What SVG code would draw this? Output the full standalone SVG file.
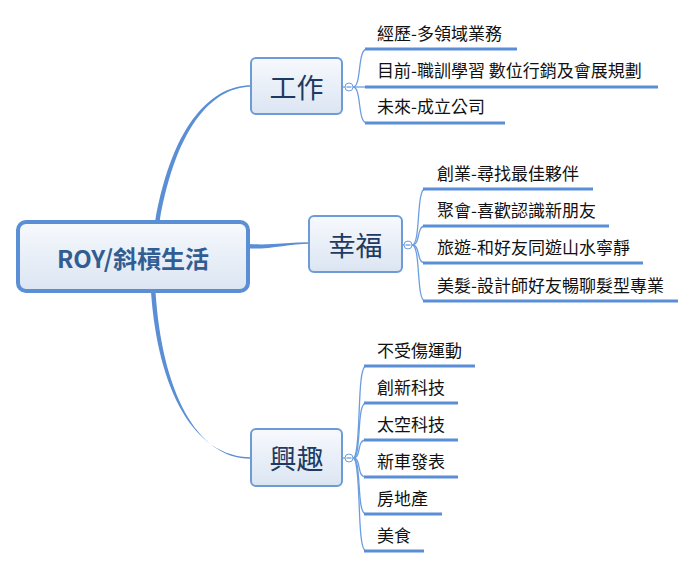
<svg xmlns="http://www.w3.org/2000/svg" width="695" height="568" viewBox="0 0 695 568">
<defs>
<linearGradient id="gNode" x1="0" y1="0" x2="0" y2="1">
<stop offset="0" stop-color="#f7f9fd"/>
<stop offset="1" stop-color="#dbe5f2"/>
</linearGradient>
<style>
text{font-family:"Noto Sans CJK TC","Noto Sans CJK SC",sans-serif}
.root{fill:url(#gNode);stroke:#5a8fd6;stroke-width:4}
.rootT{font-size:24px;font-weight:bold;fill:#315d93;text-anchor:middle;dominant-baseline:central}
.node{fill:url(#gNode);stroke:#6c9bd8;stroke-width:2}
.nodeT{font-size:27px;fill:#1e3a63;text-anchor:middle;dominant-baseline:central}
.trunk{fill:#5a8ed5;stroke:none}
.twig{fill:none;stroke:#6c9edf;stroke-width:1.3}
.under{fill:none;stroke:#5a8ed6;stroke-width:3}
.tog{fill:#fff;stroke:#6c9edf;stroke-width:1}
.leafT{font-size:17px;fill:#111}
</style>
</defs>
<rect width="695" height="568" fill="#fff"/>
<g id="connectors">
<path class="trunk" d="M155,222 C173,120 214,85.2 251,85.2 L251,86.8 C216,86.8 177,121 159.5,222 Z"/>
<path class="trunk" d="M249,244 C270,245.5 290,242.3 310,242.3 L310,243.7 C290,243.7 270,249.5 249,248.5 Z"/>
<path class="trunk" d="M151,292 C158,390 194,457.2 251,457.2 L251,458.8 C196,458.8 162,390 155.5,292 Z"/>
<path class="twig" d="M342,87 L345,87"/>
<path class="twig" d="M353,87 C362,87 357,49 367,49"/>
<path class="twig" d="M353,87 L367,87"/>
<path class="twig" d="M353,87 C362,87 357,123 367,123"/>
<path class="under" d="M365,49 H517 M365,87 H658 M365,123 H505"/>
<path class="twig" d="M402,245 L404,245"/>
<path class="twig" d="M412,245 C421,245 416,189 425,189"/>
<path class="twig" d="M412,245 C421,245 416,226 425,226"/>
<path class="twig" d="M412,245 C421,245 416,263 425,263"/>
<path class="twig" d="M412,245 C421,245 416,301 425,301"/>
<path class="under" d="M423,189 H593 M423,226 H609 M423,263 H643 M423,301 H678"/>
<path class="twig" d="M342,458 L345,458"/>
<path class="twig" d="M353,458 C362,458 356,366 366,366"/>
<path class="twig" d="M353,458 C362,458 356,403 366,403"/>
<path class="twig" d="M353,458 C362,458 356,440 366,440"/>
<path class="twig" d="M353,458 C362,458 356,477 366,477"/>
<path class="twig" d="M353,458 C362,458 356,514 366,514"/>
<path class="twig" d="M353,458 C362,458 356,551 366,551"/>
<path class="under" d="M364,366 H475 M364,403 H458 M364,440 H458 M364,477 H458 M364,514 H442 M364,551 H424"/>
</g>
<g id="root">
<rect class="root" x="18" y="222" width="230" height="69" rx="8"/>
<text class="rootT" x="133" y="257">ROY/斜槓生活</text>
</g>
<g id="work">
<rect class="node" x="251" y="58" width="91" height="56" rx="5"/>
<text class="nodeT" x="296.5" y="86">工作</text>
<circle class="tog" cx="349" cy="87" r="4"/>
<path class="twig" d="M346.5,87 H351.5"/>
</g>
<g id="work-leaves">
<text class="leafT" x="377" y="40">經歷-多領域業務</text>
<text class="leafT" x="377" y="77">目前-職訓學習 數位行銷及會展規劃</text>
<text class="leafT" x="377" y="113">未來-成立公司</text>
</g>
<g id="happiness">
<rect class="node" x="309" y="216" width="93" height="56" rx="5"/>
<text class="nodeT" x="355.5" y="244">幸福</text>
<circle class="tog" cx="408" cy="245" r="4"/>
<path class="twig" d="M405.5,245 H410.5"/>
</g>
<g id="happiness-leaves">
<text class="leafT" x="437" y="180">創業-尋找最佳夥伴</text>
<text class="leafT" x="437" y="217">聚會-喜歡認識新朋友</text>
<text class="leafT" x="437" y="254">旅遊-和好友同遊山水寧靜</text>
<text class="leafT" x="437" y="292">美髮-設計師好友暢聊髮型專業</text>
</g>
<g id="interest">
<rect class="node" x="251" y="429" width="91" height="57" rx="5"/>
<text class="nodeT" x="296.5" y="457.5">興趣</text>
<circle class="tog" cx="349" cy="458" r="4"/>
<path class="twig" d="M346.5,458 H351.5"/>
</g>
<g id="interest-leaves">
<text class="leafT" x="377" y="357">不受傷運動</text>
<text class="leafT" x="377" y="394">創新科技</text>
<text class="leafT" x="377" y="431">太空科技</text>
<text class="leafT" x="377" y="468">新車發表</text>
<text class="leafT" x="377" y="505">房地產</text>
<text class="leafT" x="377" y="542">美食</text>
</g>
</svg>
